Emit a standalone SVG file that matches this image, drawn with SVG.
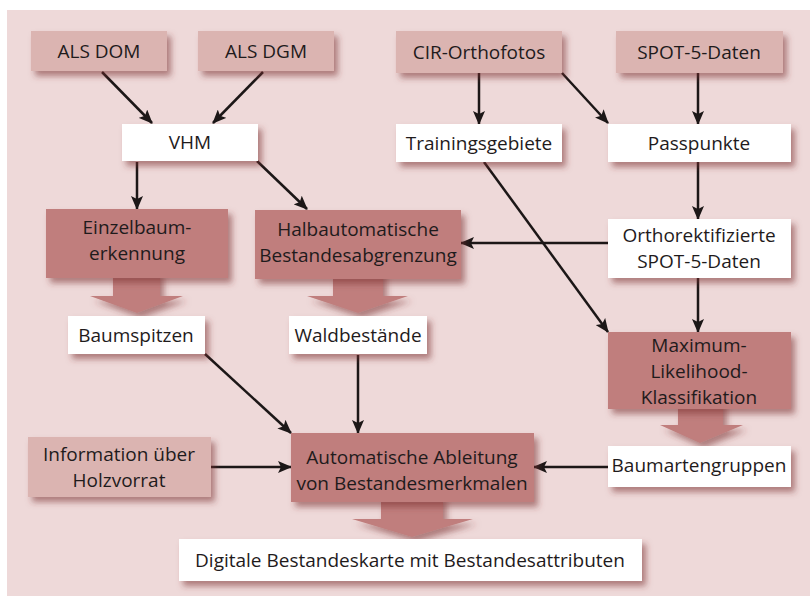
<svg xmlns="http://www.w3.org/2000/svg" width="810" height="596" viewBox="0 0 810 596">
<defs>
<filter id="sh" x="-10%" y="-20%" width="130%" height="160%">
<feDropShadow dx="4" dy="5" stdDeviation="3" flood-color="#7a2e2e" flood-opacity="0.55"/>
</filter>
<marker id="ah" viewBox="0 0 14 12" refX="13" refY="6" markerWidth="14" markerHeight="12" markerUnits="userSpaceOnUse" orient="auto">
<path d="M0,0 L14,6 L0,12 L3,6 z" fill="#1c1717"/>
</marker>
<style>
.light{fill:#dbb4b1;filter:url(#sh)}
.dark{fill:#c07e7d;filter:url(#sh)}
.white{fill:#ffffff;filter:url(#sh)}
text{font-family:"Open Sans","Noto Sans","DejaVu Sans",sans-serif;font-size:19px;fill:#1f1b1c;text-anchor:middle}
.ln{stroke:#1c1717;stroke-width:2.5;fill:none;marker-end:url(#ah)}
.blk{fill:#c07e7d;filter:url(#sh)}
</style>
</defs>
<rect x="7" y="10" width="803" height="586" fill="#eed9d9"/>

<g id="connectors">
<path class="blk" d="M113,270 H160 V296 H183 L137,313 L90,296 H113 Z"/>
<path class="blk" d="M333,270 H383 V296 H408 L358,313 L307,296 H333 Z"/>
<path class="blk" d="M381,495 H443 V519 H473 L412,537 L352,519 H381 Z"/>
<path class="blk" d="M678,400 H723 V425 H743 L700,443 L660,425 H678 Z"/>
<line class="ln" x1="102" y1="72" x2="152" y2="123"/>
<line class="ln" x1="263" y1="72" x2="213" y2="123"/>
<line class="ln" x1="137" y1="162" x2="137" y2="209"/>
<line class="ln" x1="257" y1="161" x2="307" y2="209"/>
<line class="ln" x1="479" y1="73" x2="479" y2="124"/>
<line class="ln" x1="562" y1="73" x2="608" y2="123"/>
<line class="ln" x1="698" y1="73" x2="698" y2="124"/>
<line class="ln" x1="698" y1="162" x2="698" y2="219"/>
<line class="ln" x1="608" y1="243" x2="461" y2="243"/>
<line class="ln" x1="484" y1="162" x2="608" y2="332"/>
<line class="ln" x1="698" y1="278" x2="698" y2="332"/>
<line class="ln" x1="205" y1="354" x2="291" y2="433"/>
<line class="ln" x1="358" y1="355" x2="358" y2="433"/>
<line class="ln" x1="211" y1="467" x2="291" y2="467"/>
<line class="ln" x1="608" y1="467" x2="534" y2="467"/>
</g>

<g id="als-dom"><rect class="light" x="31" y="31" width="136" height="40"/><text x="99" y="58">ALS DOM</text></g>
<g id="als-dgm"><rect class="light" x="198" y="31" width="136" height="40"/><text x="266" y="58">ALS DGM</text></g>
<g id="cir"><rect class="light" x="396" y="31" width="166" height="42"/><text x="479" y="59">CIR-Orthofotos</text></g>
<g id="spot5"><rect class="light" x="616" y="31" width="167" height="42"/><text x="699" y="59">SPOT-5-Daten</text></g>
<g id="vhm"><rect class="white" x="122" y="124" width="136" height="37"/><text x="190" y="149">VHM</text></g>
<g id="training"><rect class="white" x="396" y="124" width="166" height="38"/><text x="479" y="150">Trainingsgebiete</text></g>
<g id="passpunkte"><rect class="white" x="608" y="124" width="183" height="38"/><text x="699" y="150">Passpunkte</text></g>
<g id="einzelbaum"><rect class="dark" x="46" y="209" width="182" height="69"/><text x="137" y="234">Einzelbaum-</text><text x="137" y="260">erkennung</text></g>
<g id="halbauto"><rect class="dark" x="255" y="210" width="206" height="69"/><text x="358" y="236">Halbautomatische</text><text x="358" y="262">Bestandesabgrenzung</text></g>
<g id="ortho"><rect class="white" x="608" y="219" width="183" height="59"/><text x="699" y="242">Orthorektifizierte</text><text x="699" y="268">SPOT-5-Daten</text></g>
<g id="baumspitzen"><rect class="white" x="68" y="316" width="137" height="38"/><text x="136" y="342">Baumspitzen</text></g>
<g id="waldbestaende"><rect class="white" x="289" y="316" width="138" height="38"/><text x="358" y="342">Waldbestände</text></g>
<g id="maxlik"><rect class="dark" x="608" y="332" width="183" height="77"/><text x="699" y="352">Maximum-</text><text x="699" y="378">Likelihood-</text><text x="699" y="404">Klassifikation</text></g>
<g id="holzvorrat"><rect class="light" x="28" y="437" width="183" height="60"/><text x="119" y="461">Information über</text><text x="119" y="487">Holzvorrat</text></g>
<g id="automatisch"><rect class="dark" x="291" y="433" width="243" height="69"/><text x="412" y="464">Automatische Ableitung</text><text x="412" y="490">von Bestandesmerkmalen</text></g>
<g id="baumarten"><rect class="white" x="608" y="446" width="183" height="41"/><text x="699" y="472">Baumartengruppen</text></g>
<g id="karte"><rect class="white" x="179" y="539" width="463" height="42"/><text x="410" y="567">Digitale Bestandeskarte mit Bestandesattributen</text></g>
</svg>
